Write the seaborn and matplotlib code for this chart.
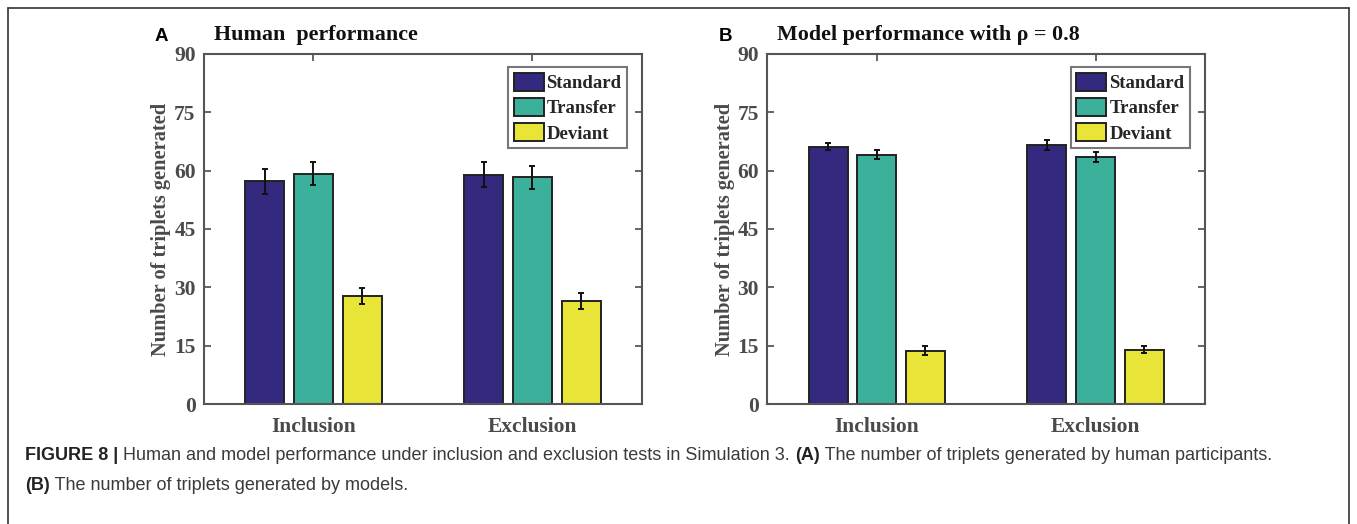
import numpy as np
import pandas as pd
import matplotlib
matplotlib.use("Agg")
import matplotlib.pyplot as plt
from matplotlib.lines import Line2D
import seaborn as sns

# ---- data ----
tests = ["Inclusion", "Exclusion"]
conditions = ["Standard", "Transfer", "Deviant"]
human_means = {"Standard": [57.3, 59.0], "Transfer": [59.2, 58.3], "Deviant": [27.7, 26.5]}
human_errs = {"Standard": [3.2, 3.3], "Transfer": [3.0, 2.9], "Deviant": [2.0, 2.0]}
model_means = {"Standard": [66.2, 66.5], "Transfer": [64.1, 63.5], "Deviant": [13.7, 14.0]}
model_errs = {"Standard": [1.0, 1.3], "Transfer": [1.2, 1.4], "Deviant": [1.2, 0.8]}
yticks = [0, 15, 30, 45, 60, 75, 90]
titles = ["Human  performance", "Model performance with \u03c1 = 0.8"]
panel_letters = ["A", "B"]
colors = ["#332A80", "#3BB09A", "#E8E438"]

sns.set_theme(style="white")
serif = ["Liberation Serif", "DejaVu Serif"]
plt.rcParams["font.family"] = serif

fig = plt.figure(figsize=(13.57, 5.24), dpi=100)

axes_pos = [[0.1503, 0.229, 0.3228, 0.668], [0.5655, 0.229, 0.3224, 0.668]]
gray = "#4a4a4a"

for k, (means, errs) in enumerate([(human_means, human_errs), (model_means, model_errs)]):
    rows = []
    for c in conditions:
        for i, t in enumerate(tests):
            rows.append({"test": t, "condition": c, "value": means[c][i], "err": errs[c][i]})
    df = pd.DataFrame(rows)
    ax = fig.add_axes(axes_pos[k])
    sns.barplot(data=df, x="test", y="value", hue="condition", order=tests,
                hue_order=conditions, palette=colors, width=0.667, gap=0.2,
                errorbar=None, edgecolor="#222222", linewidth=1.4, ax=ax, saturation=1)
    # error bars at bar centers
    for j, c in enumerate(conditions):
        cont = ax.containers[j]
        for i, patch in enumerate(cont.patches):
            xc = patch.get_x() + patch.get_width() / 2
            yv = patch.get_height()
            ax.errorbar(xc, yv, yerr=errs[c][i], color="#111111", lw=1.4,
                        capsize=2.5, capthick=1.4, zorder=5)
    ax.set_xlim(-0.5, 1.5)
    ax.set_ylim(0, 90)
    ax.set_yticks(yticks)
    ax.set_yticklabels([str(v) for v in yticks], fontsize=15.5, fontweight="bold", color=gray)
    ax.set_xticks([0, 1])
    ax.set_xticklabels(tests, fontsize=15.5, fontweight="bold", color=gray)
    ax.set_xlabel("")
    ax.set_ylabel("Number of triplets generated", fontsize=14.7, fontweight="bold",
                  color=gray, labelpad=2)
    ax.tick_params(axis="both", direction="in", length=5, width=1.2, color=gray,
                   top=True, right=True, bottom=True, left=True, pad=6)
    ax.tick_params(axis="x", pad=9)
    for s in ax.spines.values():
        s.set_color("#555555")
        s.set_linewidth(1.5)
        s.set_visible(True)
    leg = ax.legend(loc="upper right", bbox_to_anchor=(0.966, 0.963), frameon=True,
                    fancybox=False, edgecolor="#555555", handlelength=1.6,
                    handleheight=1.1, handletextpad=0.15, labelspacing=0.32,
                    borderpad=0.3, borderaxespad=0.0,
                    prop={"family": serif, "weight": "bold", "size": 13.5})
    leg.get_frame().set_linewidth(1.5)
    leg.set_zorder(6)
    ax.text(0.023, 1.025, titles[k], transform=ax.transAxes, fontsize=15.8,
            fontweight="bold", color="#111111", ha="left", va="bottom")
    ax.text(-0.112, 1.025, panel_letters[k], transform=ax.transAxes, fontsize=13.5,
            fontweight="bold", family=["Liberation Sans", "DejaVu Sans"],
            color="black", ha="left", va="bottom")

# figure frame
fc = "#333333"
fig.add_artist(Line2D([8 / 1357, 8 / 1357], [0, 1 - 8 / 524], transform=fig.transFigure, color=fc, lw=1.2))
fig.add_artist(Line2D([8 / 1357, 1349 / 1357], [1 - 8 / 524, 1 - 8 / 524], transform=fig.transFigure, color=fc, lw=1.2))
fig.add_artist(Line2D([1349 / 1357, 1349 / 1357], [0, 1 - 8 / 524], transform=fig.transFigure, color=fc, lw=1.2))

# caption, pieces placed one after another
cap_font = ["Liberation Sans", "DejaVu Sans"]
cap_col = "#3a3a3a"
cap_size = 13.0
renderer = fig.canvas.get_renderer()


def put_line(x0_px, y_px, pieces):
    x = x0_px
    for txt, bold in pieces:
        t = fig.text(x / 1357, 1 - y_px / 524, txt, fontsize=cap_size,
                     fontweight="bold" if bold else "normal", family=cap_font,
                     color=cap_col if not bold else "#222222", va="center", ha="left")
        bb = t.get_window_extent(renderer=renderer)
        x = bb.x1


put_line(25, 455, [("FIGURE 8 | ", True),
                   ("Human and model performance under inclusion and exclusion tests in Simulation 3. ", False),
                   ("(A)", True),
                   (" The number of triplets generated by human participants.", False)])
put_line(25, 485, [("(B)", True), (" The number of triplets generated by models.", False)])

fig.savefig("out.png", dpi=100, facecolor="white")
